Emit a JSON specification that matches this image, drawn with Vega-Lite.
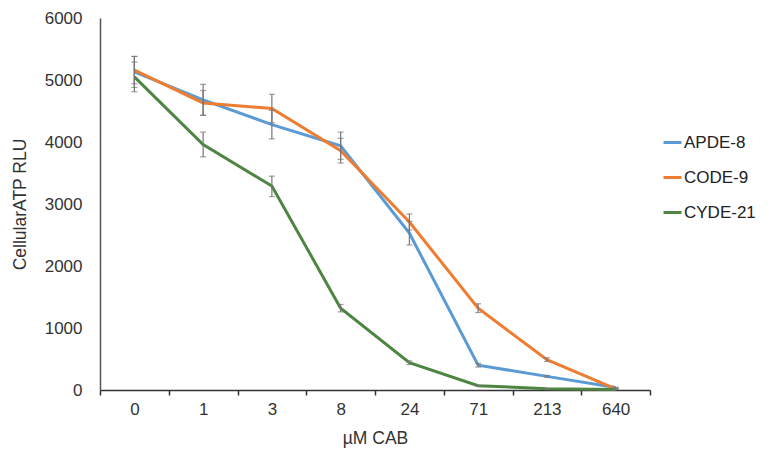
{
  "$schema": "https://vega.github.io/schema/vega-lite/v6.json",
  "autosize": "none",
  "width": 550,
  "height": 372,
  "padding": {"left": 100, "top": 18, "right": 129, "bottom": 66},
  "background": "white",
  "config": {
    "font": "Liberation Sans",
    "view": {"stroke": null}
  },
  "data": {
    "values": [
      {"conc": "0", "series": "APDE-8", "value": 5130, "lo": 4880, "hi": 5380},
      {"conc": "1", "series": "APDE-8", "value": 4680, "lo": 4430, "hi": 4930},
      {"conc": "3", "series": "APDE-8", "value": 4280, "lo": 4050, "hi": 4510},
      {"conc": "8", "series": "APDE-8", "value": 3940, "lo": 3720, "hi": 4160},
      {"conc": "24", "series": "APDE-8", "value": 2530, "lo": 2340, "hi": 2720},
      {"conc": "71", "series": "APDE-8", "value": 400, "lo": 370, "hi": 430},
      {"conc": "213", "series": "APDE-8", "value": 220, "lo": 205, "hi": 235},
      {"conc": "640", "series": "APDE-8", "value": 40, "lo": 35, "hi": 45},
      {"conc": "0", "series": "CODE-9", "value": 5160, "lo": 4940, "hi": 5380},
      {"conc": "1", "series": "CODE-9", "value": 4630, "lo": 4430, "hi": 4830},
      {"conc": "3", "series": "CODE-9", "value": 4540, "lo": 4310, "hi": 4770},
      {"conc": "8", "series": "CODE-9", "value": 3860, "lo": 3660, "hi": 4060},
      {"conc": "24", "series": "CODE-9", "value": 2710, "lo": 2580, "hi": 2840},
      {"conc": "71", "series": "CODE-9", "value": 1320, "lo": 1250, "hi": 1390},
      {"conc": "213", "series": "CODE-9", "value": 490, "lo": 460, "hi": 520},
      {"conc": "640", "series": "CODE-9", "value": 20, "lo": 15, "hi": 25},
      {"conc": "0", "series": "CYDE-21", "value": 5050, "lo": 4810, "hi": 5290},
      {"conc": "1", "series": "CYDE-21", "value": 3960, "lo": 3760, "hi": 4160},
      {"conc": "3", "series": "CYDE-21", "value": 3290, "lo": 3120, "hi": 3450},
      {"conc": "8", "series": "CYDE-21", "value": 1320, "lo": 1260, "hi": 1380},
      {"conc": "24", "series": "CYDE-21", "value": 440, "lo": 410, "hi": 470},
      {"conc": "71", "series": "CYDE-21", "value": 70, "lo": 60, "hi": 80},
      {"conc": "213", "series": "CYDE-21", "value": 20, "lo": 15, "hi": 25},
      {"conc": "640", "series": "CYDE-21", "value": 10, "lo": 5, "hi": 15}
    ]
  },
  "encoding": {
    "x": {
      "field": "conc",
      "type": "ordinal",
      "sort": ["0", "1", "3", "8", "24", "71", "213", "640"],
      "scale": {"type": "band", "paddingInner": 0, "paddingOuter": 0},
      "axis": {
        "title": "µM CAB",
        "titleFontSize": 17.5,
        "titleFontWeight": "normal",
        "titleColor": "#333333",
        "titlePadding": 12,
        "labelAngle": 0,
        "labelFontSize": 17,
        "labelColor": "#333333",
        "labelPadding": 6,
        "domainColor": "#333333",
        "domainWidth": 1.5,
        "tickColor": "#333333",
        "tickWidth": 1.5,
        "tickSize": 5,
        "tickBand": "extent"
      }
    }
  },
  "layer": [
    {
      "mark": {"type": "line", "strokeWidth": 3},
      "encoding": {
        "y": {
          "field": "value",
          "type": "quantitative",
          "title": "CellularATP RLU",
          "scale": {"domain": [0, 6000]},
          "axis": {
            "titleFontSize": 17.5,
            "titleFontWeight": "normal",
            "titleColor": "#333333",
            "titlePadding": 15,
            "tickCount": 6,
            "format": "d",
            "grid": false,
            "ticks": false,
            "labelFontSize": 17,
            "labelColor": "#333333",
            "labelPadding": 18,
            "domainColor": "#555555",
            "domainWidth": 1.5
          }
        },
        "color": {
          "field": "series",
          "type": "nominal",
          "scale": {
            "domain": ["APDE-8", "CODE-9", "CYDE-21"],
            "range": ["#5B9BD5", "#ED7D31", "#4E8542"]
          },
          "legend": {
            "title": null,
            "orient": "none",
            "legendX": 562,
            "legendY": 114,
            "symbolType": "stroke",
            "symbolStrokeWidth": 3,
            "symbolSize": 324,
            "labelFontSize": 17,
            "labelColor": "#222222",
            "labelOffset": 1,
            "rowPadding": 16
          }
        }
      }
    },
    {
      "mark": {"type": "errorbar", "color": "#777777", "thickness": 1.2, "ticks": {"size": 6, "color": "#777777"}},
      "encoding": {
        "y": {"field": "lo", "type": "quantitative", "title": "CellularATP RLU"},
        "y2": {"field": "hi"}
      }
    }
  ]
}
